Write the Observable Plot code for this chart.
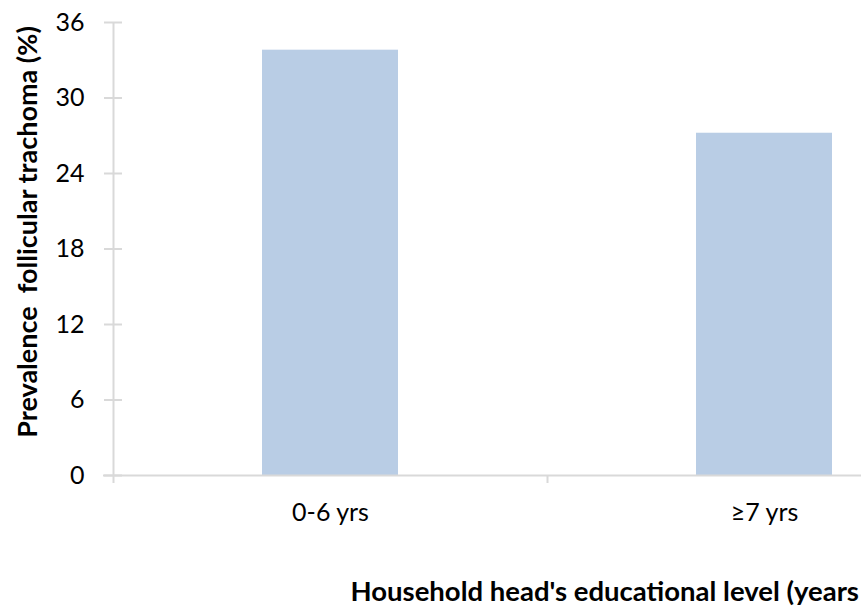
<!DOCTYPE html>
<html>
<head>
<meta charset="utf-8">
<script src="https://cdn.jsdelivr.net/npm/d3@7"></script>
<script src="https://cdn.jsdelivr.net/npm/@observablehq/plot@0.6"></script>
<style>
  html, body { margin: 0; padding: 0; background: #fff; }
  #chart { width: 861px; height: 607px; overflow: hidden; position: relative; }
  #chart svg { max-width: none !important; }
</style>
</head>
<body>
<div id="chart"></div>
<script>
const categories = ["0-6 yrs", "≥7 yrs"];
const prevalence = [33.8, 27.2];
const yTicks = [0, 6, 12, 18, 24, 30, 36];
const yTitle = "Prevalence  follicular trachoma (%)";
const xTitle = "Household head's educational level (years";

const data = categories.map((c, i) => ({cat: c, value: prevalence[i]}));

const W = 1000, H = 607;
const mL = 113, mR = 19, mT = 22, mB = 132;
const bw = (W - mL - mR) / categories.length;
const axisColor = "#d9d9d9";

const chart = Plot.plot({
  width: W,
  height: H,
  marginLeft: mL,
  marginRight: mR,
  marginTop: mT,
  marginBottom: mB,
  style: {fontFamily: "Lato, sans-serif", fontSize: "25px", color: "#000", background: "#fff", maxWidth: "none"},
  x: {domain: categories, padding: 0, axis: null},
  y: {domain: [0, 36], axis: null},
  marks: [
    Plot.barY(data, {x: "cat", y: "value", fill: "#b9cde5", insetLeft: 149, insetRight: 149}),
    // y axis line
    Plot.ruleX([categories[0]], {x: d => d, y1: 36, y2: 0, dx: -bw / 2, insetBottom: -8, stroke: axisColor, strokeWidth: 2}),
    // x axis line
    Plot.ruleY([0], {insetLeft: -10, stroke: axisColor, strokeWidth: 2}),
    // tick between categories
    Plot.ruleX([categories[1]], {x: d => d, y1: 0, y2: 0, dx: -bw / 2, insetBottom: -8, stroke: axisColor, strokeWidth: 2}),
    Plot.axisY(yTicks, {anchor: "left", tickSize: 18, dx: 9, tickPadding: 20, stroke: axisColor, strokeWidth: 2, fill: "#000", label: null, fontSize: 25}),
    Plot.axisX({anchor: "bottom", tickSize: 0, tickPadding: 28, fill: "#000", label: null, fontSize: 25}),
    Plot.text([yTitle], {text: d => d, frameAnchor: "left", textAnchor: "middle", rotate: -90, dx: -85, dy: -17, fontSize: 27, fontWeight: "bold", fill: "#000"}),
    Plot.text([xTitle], {text: d => d, frameAnchor: "bottom-left", textAnchor: "start", dx: 237, dy: 125, fontSize: 27.5, fontWeight: "bold", fill: "#000"})
  ]
});
document.getElementById("chart").appendChild(chart);
</script>
</body>
</html>
